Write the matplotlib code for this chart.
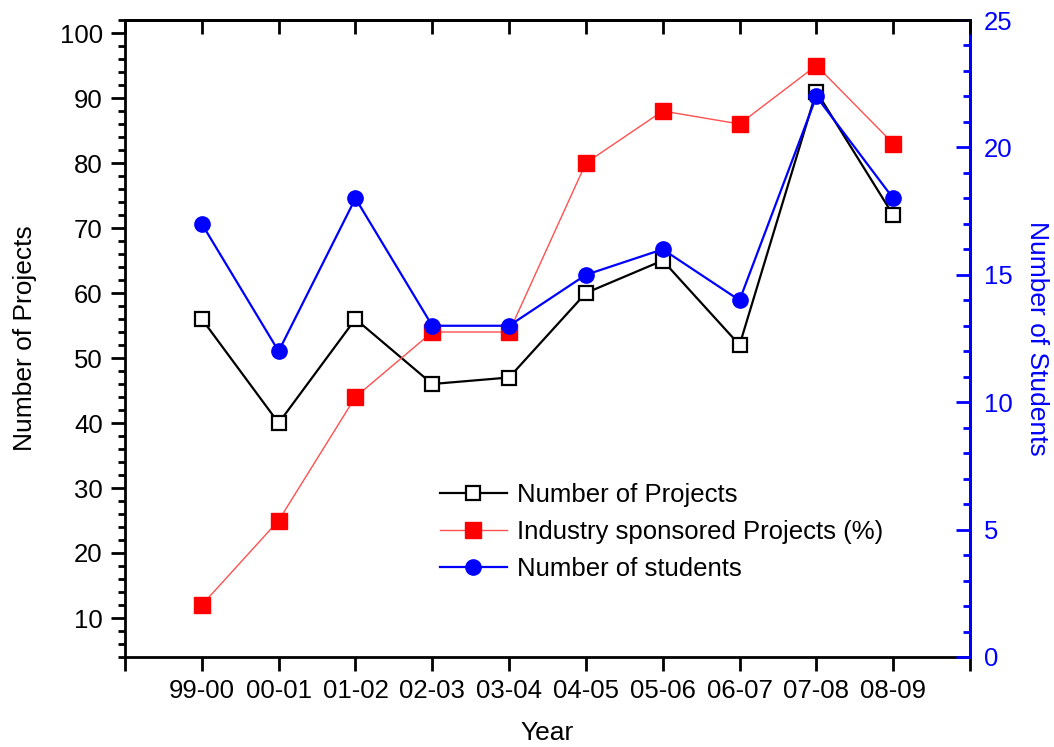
import numpy as np
import matplotlib
matplotlib.use("Agg")
import matplotlib.pyplot as plt
from matplotlib.ticker import MultipleLocator, FixedLocator

plt.rcParams['font.family'] = ['Liberation Sans', 'DejaVu Sans']

years = ['99-00', '00-01', '01-02', '02-03', '03-04',
         '04-05', '05-06', '06-07', '07-08', '08-09']
projects = [56, 40, 56, 46, 47, 60, 65, 52, 91, 72]
industry_pct = [12, 25, 44, 54, 54, 80, 88, 86, 95, 83]
students = [17, 12, 18, 13, 13, 15, 16, 14, 22, 18]

x = np.arange(len(years))
fs = 18.5

fig = plt.figure(figsize=(10.54, 7.47), dpi=100)
ax = fig.add_axes([125 / 1054, 90 / 747, 845 / 1054, 637 / 747])
ax2 = ax.twinx()
ax3 = ax.twiny()  # only for the inward ticks on top

h1, = ax.plot(x, projects, color='black', lw=1.6, marker='s', ms=10,
              mfc='white', mec='black', mew=1.6, label='Number of Projects')
h2, = ax.plot(x, industry_pct, color='#ff5050', lw=1.0, marker='s', ms=11,
              mfc='red', mec='red', label='Industry sponsored Projects (%)')
h3, = ax2.plot(x, students, color='blue', lw=1.6, marker='o', ms=11,
               mfc='blue', mec='blue', label='Number of students')

ax.set_xlim(-1, 10)
ax3.set_xlim(-1, 10)
ax.set_ylim(4, 102)
ax2.set_ylim(0, 25)

# x ticks: marks at every position, labels only for the years
ax.xaxis.set_major_locator(FixedLocator(np.arange(-1, 11)))
ax.set_xticklabels([''] + years + [''])
ax3.xaxis.set_major_locator(FixedLocator(np.arange(-1, 11)))
ax3.set_xticklabels([])
ax.set_yticks(np.arange(10, 101, 10))
ax.yaxis.set_minor_locator(MultipleLocator(2))
ax2.yaxis.set_major_locator(MultipleLocator(5))
ax2.yaxis.set_minor_locator(MultipleLocator(1))

for a in (ax, ax2, ax3):
    for s in a.spines.values():
        s.set_linewidth(2)
ax2.spines['right'].set_color('blue')
for side in ('left', 'top', 'bottom'):
    ax2.spines[side].set_visible(False)
for side in ('left', 'right', 'bottom'):
    ax3.spines[side].set_visible(False)

ax.tick_params(axis='x', which='major', direction='out', length=10, width=2,
               labelsize=fs, pad=6, top=False)
ax.tick_params(axis='y', which='major', direction='out', length=10, width=2,
               labelsize=fs, pad=6, right=False)
ax.tick_params(axis='y', which='minor', direction='out', length=5, width=2,
               right=False)
ax3.tick_params(axis='x', which='major', direction='in', length=10, width=2,
                top=True, bottom=False)
ax2.tick_params(axis='y', which='major', direction='in', length=10, width=2,
                colors='blue', labelsize=fs, pad=10)
ax2.tick_params(axis='y', which='minor', direction='in', length=5, width=2,
                colors='blue')

ax.set_xlabel('Year', fontsize=fs + 0.5, labelpad=13)
ax.set_ylabel('Number of Projects', fontsize=fs + 0.5, labelpad=16)
ax2.set_ylabel('Number of Students', fontsize=fs + 0.5, color='blue',
               rotation=270, labelpad=26)

ax.legend(handles=[h1, h2, h3], loc='upper left', frameon=False,
          fontsize=fs, bbox_to_anchor=(440 / 1054, 1 - 483 / 747),
          bbox_transform=fig.transFigure, borderpad=0, borderaxespad=0,
          handlelength=2.6, handletextpad=0.4, labelspacing=0.5)

fig.savefig('out.png', dpi=100)
